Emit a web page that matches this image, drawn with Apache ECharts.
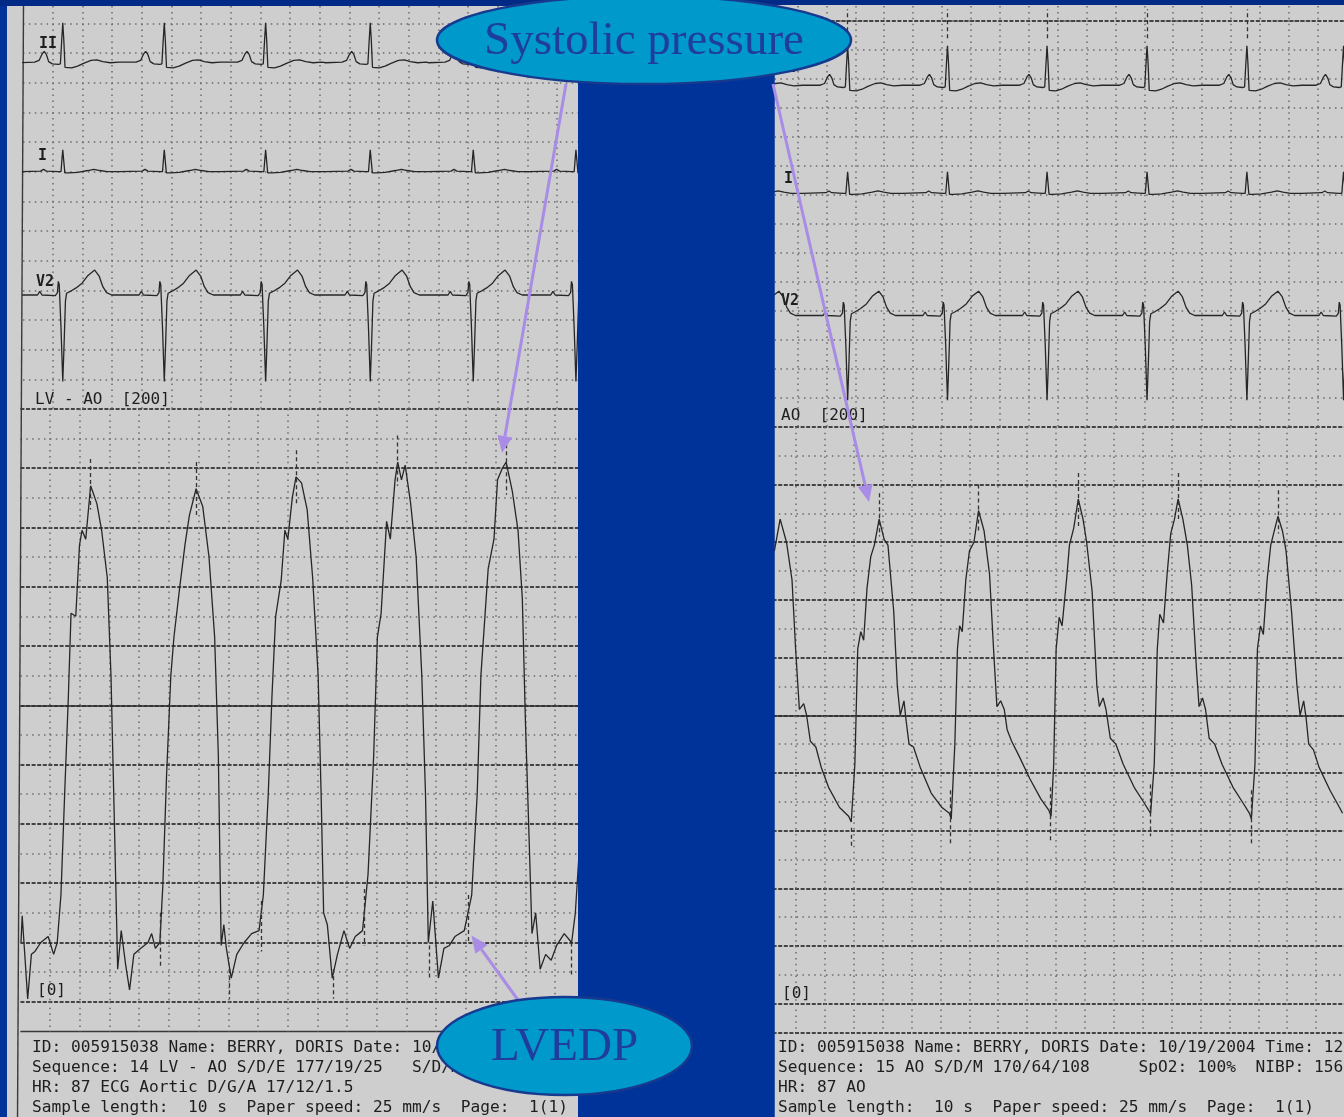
<!DOCTYPE html>
<html>
<head>
<meta charset="utf-8">
<title>LV and aortic pressure tracings</title>
<script src="https://cdn.jsdelivr.net/npm/echarts@6/dist/echarts.min.js"></script>
<style>
  html, body { margin: 0; padding: 0; background: #003399; }
  #chart { width: 1344px; height: 1117px; }
</style>
</head>
<body>
<div id="chart"></div>
<script>
// ---------------- Recorded data ----------------
// R-wave times (s) on each strip
const lvStripBeats = [0.268, 0.952, 1.635, 2.340, 3.034, 3.726];
const aoStripBeats = [-0.144, 0.547, 1.238, 1.927, 2.619, 3.310, 3.979];

// One cardiac cycle per ECG lead: [time from R (s), amplitude (mV)]
const leadIIBeat = [[-0.30,0.00],[-0.19,0.01],[-0.16,0.04],[-0.14,0.15],[-0.125,0.20],[-0.11,0.14],[-0.095,0.02],
  [-0.07,-0.02],[-0.03,-0.03],[-0.016,-0.02],[-0.007,0.40],[0.000,0.70],[0.007,0.40],[0.015,-0.08],[0.025,-0.11],
  [0.06,-0.09],[0.10,-0.06],[0.14,-0.01],[0.19,0.04],[0.23,0.05],[0.27,0.02],[0.32,0.00],[0.38,0.01]];
const leadIBeat = [[-0.30,0.00],[-0.15,0.01],[-0.13,0.04],[-0.11,0.01],[-0.03,0.00],[-0.012,0.00],[-0.005,0.22],
  [0.000,0.37],[0.006,0.20],[0.014,-0.02],[0.04,-0.02],[0.10,-0.01],[0.17,0.02],[0.21,0.04],[0.25,0.02],[0.30,0.00],[0.38,0.00]];
const leadV2Beat = [[-0.30,0.00],[-0.17,0.00],[-0.155,0.06],[-0.14,0.00],[-0.05,-0.01],[-0.036,0.04],[-0.030,0.23],
  [-0.024,0.18],[-0.012,-0.55],[0.000,-1.46],[0.008,-0.90],[0.018,-0.10],[0.026,0.03],[0.05,0.06],[0.09,0.12],
  [0.13,0.20],[0.17,0.33],[0.215,0.42],[0.245,0.32],[0.27,0.14],[0.295,0.04],[0.33,0.00],[0.38,0.00]];

// LV pressure, sequence 14: [time (s), mmHg]
const lvPressure = [[0.004,20],[0.012,29],[0.032,14],[0.049,1],[0.074,16],[0.098,17],[0.137,20],[0.187,22],[0.224,16],
  [0.248,20],[0.273,36],[0.298,70],[0.323,103],[0.341,131],[0.373,130],[0.398,154],[0.415,159],[0.440,156],[0.473,174],
  [0.515,168],[0.547,159],[0.585,143],[0.610,110],[0.635,56],[0.655,11],[0.679,24],[0.710,12],[0.735,4],[0.764,16],
  [0.809,18],[0.859,20],[0.884,23],[0.909,18],[0.939,20],[0.959,39],[0.984,76],[1.013,110],[1.034,123],[1.071,139],
  [1.108,154],[1.138,164],[1.183,173],[1.228,167],[1.270,150],[1.308,123],[1.333,83],[1.352,19],[1.370,26],[1.387,18],
  [1.420,8],[1.457,16],[1.507,20],[1.557,23],[1.607,24],[1.636,36],[1.669,70],[1.694,103],[1.719,130],[1.756,142],
  [1.781,159],[1.801,156],[1.831,170],[1.856,177],[1.893,175],[1.931,166],[1.968,143],[2.005,110],[2.025,70],[2.042,30],
  [2.067,26],[2.100,8],[2.135,16],[2.179,24],[2.217,18],[2.255,22],[2.304,24],[2.341,43],[2.379,83],[2.404,123],
  [2.429,131],[2.466,162],[2.491,156],[2.523,176],[2.541,182],[2.566,176],[2.591,181],[2.628,168],[2.665,150],[2.703,110],
  [2.728,70],[2.747,20],[2.777,34],[2.815,8],[2.852,18],[2.889,19],[2.926,22],[2.989,24],[3.039,36],[3.076,70],
  [3.101,110],[3.150,146],[3.189,156],[3.213,176],[3.246,180],[3.271,182],[3.313,172],[3.351,159],[3.380,136],[3.400,96],
  [3.425,56],[3.445,23],[3.470,30],[3.500,11],[3.537,16],[3.574,14],[3.611,19],[3.662,23],[3.712,20],[3.737,30],[3.762,50]];

// Aortic pressure, sequence 15: [time (s), mmHg]
const aoPressure = [[0.051,157],[0.091,168],[0.135,160],[0.173,147],[0.198,123],[0.224,102],[0.254,104],[0.274,100],
  [0.300,91],[0.338,89],[0.375,82],[0.426,75],[0.502,68],[0.565,65],[0.583,63],[0.608,83],[0.628,123],[0.649,129],
  [0.669,126],[0.692,144],[0.718,155],[0.743,159],[0.776,168],[0.811,161],[0.837,159],[0.877,136],[0.902,110],[0.922,100],
  [0.948,105],[0.963,98],[0.983,90],[1.014,89],[1.060,82],[1.136,73],[1.211,68],[1.262,66],[1.275,64],[1.300,90],
  [1.318,123],[1.333,131],[1.351,129],[1.376,147],[1.401,157],[1.432,160],[1.464,171],[1.502,164],[1.540,149],[1.571,120],
  [1.591,103],[1.617,105],[1.642,102],[1.662,95],[1.693,91],[1.743,86],[1.819,78],[1.895,71],[1.951,67],[1.966,65],
  [1.984,83],[2.001,123],[2.022,134],[2.042,131],[2.073,147],[2.093,159],[2.123,165],[2.154,175],[2.187,168],[2.212,160],
  [2.250,143],[2.283,110],[2.300,103],[2.326,106],[2.346,102],[2.376,92],[2.414,90],[2.465,83],[2.541,75],[2.605,70],
  [2.655,66],[2.680,83],[2.701,123],[2.718,135],[2.744,132],[2.769,149],[2.794,163],[2.820,168],[2.845,175],[2.878,168],
  [2.909,159],[2.939,145],[2.972,116],[2.990,103],[3.014,106],[3.035,102],[3.060,92],[3.098,90],[3.149,83],[3.225,75],
  [3.289,70],[3.339,66],[3.352,64],[3.377,83],[3.394,123],[3.415,131],[3.435,128],[3.461,147],[3.486,159],[3.511,164],
  [3.536,169],[3.567,164],[3.592,157],[3.630,136],[3.668,110],[3.689,100],[3.714,105],[3.731,99],[3.749,90],[3.782,88],
  [3.820,82],[3.896,74],[3.962,68],[3.983,66]];

// Recorder's dashed event marks: [time (s), from mmHg, to mmHg]
const lvPeakMarks = [[0.473,183,166],[1.183,182,164],[1.856,186,168],[2.541,191,174],[3.271,188,171]];
const lvDiastoleMarks = [[0.939,30,12],[1.407,11,1],[1.620,34,17],[2.105,11,1],[2.316,38,19],[2.752,19,8],[3.014,36,20],[3.707,20,9]];
const aoPeakMarks = [[0.776,177,162],[1.464,180,163],[2.154,184,165],[2.845,184,168],[3.536,178,163]];
const aoDiastoleMarks = [[0.583,61,54],[1.270,74,55],[1.962,75,56],[2.650,76,58],[3.352,74,55]];
// Event marks above R on lead II of the aortic strip (mV span)
const aoRMarkSpan = [0.83, 1.34];

// Scale and lead labels
const pressureScale = [0, 200];
const leadNames = ['II', 'I', 'V2'];
const lvFooter = ['ID: 005915038 Name: BERRY, DORIS Date: 10/19/2004',
  'Sequence: 14 LV - AO S/D/E 177/19/25   S/D/M',
  'HR: 87 ECG Aortic D/G/A 17/12/1.5',
  'Sample length:  10 s  Paper speed: 25 mm/s  Page:  1(1)'];
const aoFooter = ['ID: 005915038 Name: BERRY, DORIS Date: 10/19/2004 Time: 12:0',
  'Sequence: 15 AO S/D/M 170/64/108     SpO2: 100%  NIBP: 156/6',
  'HR: 87 AO',
  'Sample length:  10 s  Paper speed: 25 mm/s  Page:  1(1)'];

// ---------------- Styles ----------------
const PAPER = '#cecece';
const INK = '#262626';
const MONO = '"DejaVu Sans Mono", "Liberation Mono", monospace';
const SERIF = '"Liberation Serif", "DejaVu Serif", serif';
const ARROW = '#a98ce6';
const DOT = { color: '#6b6b6b', width: 1.5, type: [1.5, 4.4] };
const HEAVY = { color: '#444444', width: 2, type: [4, 1.6] };
const SOLID = { color: '#2e2e2e', width: 1.6, type: 'solid' };
const THIN = { color: '#383838', width: 1.3, type: 'solid' };
const TRACE = { color: INK, width: 1.3 };

// ---------------- Builders ----------------
const grid = [], xAxis = [], yAxis = [], series = [];

function axis(gridIndex, min, max, extra) {
  return Object.assign({
    type: 'value', gridIndex: gridIndex, min: min, max: max, silent: true,
    axisLine: { show: false }, axisTick: { show: false }, axisLabel: { show: false },
    splitLine: { show: false }
  }, extra || {});
}
function split(interval, style, showMin, showMax) {
  return { interval: interval,
    splitLine: { show: true, showMinLine: showMin, showMaxLine: showMax, lineStyle: style } };
}
function addGrid(box) {
  grid.push(Object.assign({ show: false, containLabel: false }, box));
  return grid.length - 1;
}
function pushX(a) { xAxis.push(a); return xAxis.length - 1; }
function pushY(a) { yAxis.push(a); return yAxis.length - 1; }
function lineSeries(xi, yi, data, extra) {
  series.push(Object.assign({
    type: 'line', xAxisIndex: xi, yAxisIndex: yi, data: data,
    showSymbol: false, symbol: 'none', silent: true, animation: false, clip: true,
    lineStyle: TRACE
  }, extra || {}));
}
function dashMarks(list) {
  return {
    silent: true, animation: false, symbol: ['none', 'none'], label: { show: false },
    lineStyle: { color: '#333333', width: 1.3, type: [4, 3] },
    emphasis: { disabled: true },
    data: list.map(m => [{ coord: [m[0], m[1]] }, { coord: [m[0], m[2]] }])
  };
}
// Lay one cardiac-cycle shape at every R time of a strip
function beatTrain(beats, shape) {
  const pts = [];
  let last = -Infinity;
  beats.forEach(r => shape.forEach(p => {
    const t = Math.round((r + p[0]) * 1000) / 1000;
    if (t > last) { pts.push([t, p[1]]); last = t; }
  }));
  return pts;
}

// ECG section: paper grid + three leads
function ecgSection(p) {
  const span = p.width / p.pxPerSec;
  const g = addGrid({ left: p.left, top: p.paperTop, width: p.width, height: p.rowBottom - p.paperTop });
  const rows = (p.rowBottom - p.paperTop) / p.rowPx;
  const xi = pushX(axis(g, 0, span, split(0.2, DOT, false, false)));
  const yi = pushY(axis(g, 0, rows, split(1, DOT, false, false)));
  lineSeries(xi, yi, []);
  if (p.topLine) {
    const yh = pushY(axis(g, 0, rows, split(p.topLine, HEAVY, false, false)));
    lineSeries(xi, yh, []);
  }
  const shapes = [leadIIBeat, leadIBeat, leadV2Beat];
  p.baselines.forEach((base, i) => {
    const lo = p.ranges[i][0], hi = p.ranges[i][1];
    const gl = addGrid({ left: p.left, width: p.width, top: base - hi * p.pxPerMv, height: (hi - lo) * p.pxPerMv });
    const lx = pushX(axis(gl, 0, span));
    const ly = pushY(axis(gl, lo, hi));
    const extra = (i === 0 && p.rMarks) ? { markLine: dashMarks(p.rMarks) } : {};
    lineSeries(lx, ly, beatTrain(p.beats, shapes[i]), extra);
  });
}

// Pressure section: 0..200 mmHg paper + trace + strip below
function pressureSection(p, data, marks) {
  const span = p.width / p.pxPerSec;
  const g = addGrid({ left: p.left, top: p.top, width: p.width, height: p.bottom - p.top });
  const xi = pushX(axis(g, 0, span, split(0.2, DOT, false, false)));
  const yi = pushY(axis(g, pressureScale[0], pressureScale[1], Object.assign(split(20, HEAVY, true, true), {
    minorTick: { show: false, splitNumber: 2 },
    minorSplitLine: { show: true, lineStyle: DOT }
  })));
  const ym = pushY(axis(g, pressureScale[0], pressureScale[1], split(100, SOLID, false, false)));
  lineSeries(xi, ym, []);
  lineSeries(xi, yi, data, { markLine: dashMarks(marks) });

  const s = addGrid({ left: p.left, top: p.bottom, width: p.width, height: p.stripBottom - p.bottom });
  const sx = pushX(axis(s, 0, span, split(0.2, DOT, false, false)));
  const sy = pushY(axis(s, 0, 1, split(1, p.stripLine, true, false)));
  lineSeries(sx, sy, []);
}

// ---------------- Left strip: LV - AO ----------------
ecgSection({
  left: 23, width: 555, pxPerSec: 148.4, pxPerMv: 59.3,
  paperTop: 6, rowBottom: 409, rowPx: 29.65,
  baselines: [60.5, 171.7, 295], ranges: [[-1, 1.1], [-1, 1], [-2, 1]],
  beats: lvStripBeats
});
pressureSection({ left: 20.4, width: 557.6, pxPerSec: 148.5, top: 408.7, bottom: 1001.8, stripBottom: 1031.7, stripLine: THIN },
  lvPressure, lvPeakMarks.concat(lvDiastoleMarks));

// ---------------- Right strip: AO ----------------
ecgSection({
  left: 768.6, width: 575.4, pxPerSec: 144.5, pxPerMv: 58,
  paperTop: 6, rowBottom: 426.7, rowPx: 29.0, topLine: 14,
  baselines: [85, 193.3, 315.5], ranges: [[-1, 1.5], [-1, 1], [-2, 1]],
  beats: aoStripBeats,
  rMarks: aoStripBeats.filter(t => t > 0 && t < 3.9).map(t => [t, aoRMarkSpan[0], aoRMarkSpan[1]])
});
pressureSection({ left: 767, width: 577, pxPerSec: 144.5, top: 426.9, bottom: 1003.6, stripBottom: 1032.7, stripLine: HEAVY },
  aoPressure, aoPeakMarks.concat(aoDiastoleMarks));

// ---------------- Paper, labels, annotations ----------------
function txt(x, y, s, size, z, extra) {
  return {
    type: 'text', x: x, y: y, z: z, silent: true,
    style: Object.assign({
      text: s, fontFamily: MONO, fontSize: size, fill: '#1e1e1e',
      textAlign: 'left', align: 'left', textVerticalAlign: 'middle', verticalAlign: 'middle'
    }, extra || {})
  };
}
function arrow(x1, y1, x2, y2) {
  const dx = x2 - x1, dy = y2 - y1, L = Math.hypot(dx, dy), ux = dx / L, uy = dy / L;
  const hl = 17, hw = 7.5;
  const bx = x2 - ux * hl, by = y2 - uy * hl;
  return [
    { type: 'line', z: 90, silent: true, shape: { x1: x1, y1: y1, x2: bx, y2: by }, style: { stroke: ARROW, lineWidth: 3 } },
    { type: 'polygon', z: 90, silent: true,
      shape: { points: [[x2, y2], [bx - uy * hw, by + ux * hw], [bx + uy * hw, by - ux * hw]] },
      style: { fill: ARROW } }
  ];
}
function bubble(cx, cy, rx, ry, label, size) {
  return [
    { type: 'ellipse', z: 100, silent: true, shape: { cx: cx, cy: cy, rx: rx, ry: ry },
      style: { fill: '#0099cc', stroke: '#173a8f', lineWidth: 2.5 } },
    { type: 'text', z: 101, silent: true, x: cx, y: cy + 2,
      style: { text: label, fontFamily: SERIF, fontSize: size, fill: '#1f3d9c',
        textAlign: 'center', align: 'center', textVerticalAlign: 'middle', verticalAlign: 'middle' } }
  ];
}

const elements = [
  { type: 'rect', z: -20, silent: true, shape: { x: 0, y: 0, width: 1344, height: 6 }, style: { fill: '#002a86' } },
  { type: 'rect', z: -20, silent: true, shape: { x: 7, y: 6, width: 571, height: 1111 }, style: { fill: PAPER } },
  { type: 'rect', z: -20, silent: true, shape: { x: 774.5, y: 5, width: 569.5, height: 1112 }, style: { fill: PAPER } },
  { type: 'line', z: 1, silent: true, shape: { x1: 23.5, y1: 6, x2: 17.5, y2: 1117 }, style: { stroke: '#3a3a3a', lineWidth: 1.4 } },

  txt(39, 44, leadNames[0], 15, 1, { fontWeight: 'bold' }),
  txt(38, 156, leadNames[1], 15, 1, { fontWeight: 'bold' }),
  txt(36, 282.5, leadNames[2], 15, 1, { fontWeight: 'bold' }),
  txt(35, 400, 'LV - AO  [' + pressureScale[1] + ']', 16, 1),
  txt(37, 991, '[' + pressureScale[0] + ']', 16, 1),

  txt(778, 68, leadNames[0], 15, 1, { fontWeight: 'bold' }),
  txt(784, 179, leadNames[1], 15, 1, { fontWeight: 'bold' }),
  txt(781, 301, leadNames[2], 15, 1, { fontWeight: 'bold' }),
  txt(781, 416, 'AO  [' + pressureScale[1] + ']', 16, 1),
  txt(782, 994, '[' + pressureScale[0] + ']', 16, 1)
];
lvFooter.forEach((s, i) => elements.push(txt(32, 1048 + i * 20, s, 16.2, 1)));
aoFooter.forEach((s, i) => elements.push(txt(778, 1048 + i * 20, s, 16.2, 1)));

// blue gap between the two strips
elements.push({ type: 'rect', z: 50, silent: true, shape: { x: 578, y: 6, width: 196.5, height: 1111 }, style: { fill: '#003399' } });

// call-outs
elements.push(...arrow(566, 84, 502, 453));
elements.push(...arrow(773, 84, 869, 502));
elements.push(...arrow(518, 1000, 471.5, 935.5));
elements.push(...bubble(644, 40, 207, 44, 'Systolic pressure', 47));
elements.push(...bubble(564.5, 1046, 127.5, 49, 'LVEDP', 47));

const chart = echarts.init(document.getElementById('chart'), null, { renderer: 'canvas' });
chart.setOption({
  backgroundColor: '#003399',
  animation: false,
  grid: grid,
  xAxis: xAxis,
  yAxis: yAxis,
  series: series,
  graphic: { elements: elements }
});
</script>
</body>
</html>
